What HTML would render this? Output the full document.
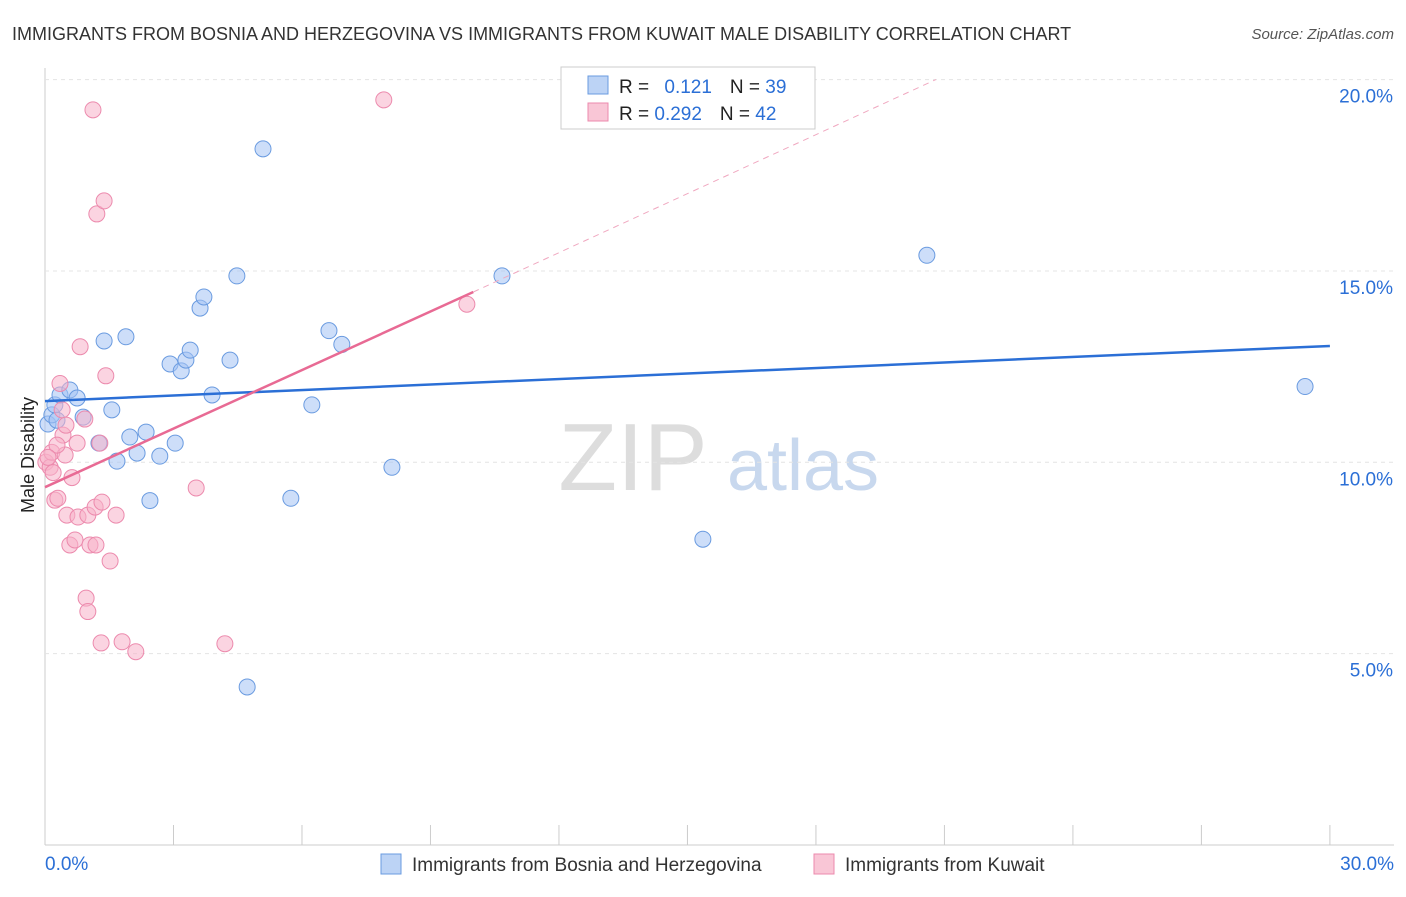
<!DOCTYPE html>
<html><head><meta charset="utf-8"><style>
body{margin:0;background:#fff;font-family:"Liberation Sans",sans-serif;}
svg text{font-family:"Liberation Sans",sans-serif;}
</style></head><body>
<svg id="c" width="1406" height="892" xmlns="http://www.w3.org/2000/svg">
<text x="12" y="40" font-size="18" fill="#333">IMMIGRANTS FROM BOSNIA AND HERZEGOVINA VS IMMIGRANTS FROM KUWAIT MALE DISABILITY CORRELATION CHART</text>
<text x="1394" y="39" font-size="15" fill="#555" font-style="italic" text-anchor="end">Source: ZipAtlas.com</text>
<g><text x="633" y="490" font-size="96" font-family="Liberation Serif" fill="#ddd" text-anchor="middle">ZIP</text><text x="803" y="490" font-size="72" fill="#c8d8ee" text-anchor="middle">atlas</text></g>
<text transform="translate(34,455) rotate(-90)" font-size="18" fill="#222" text-anchor="middle">Male Disability</text>
<g id="grid"></g><g id="pts"></g><g id="lines"></g>
<g>
<rect x="561" y="67" width="254" height="62" fill="#fff" stroke="#ccc"/>
<rect x="588" y="76" width="20" height="18" fill="#bcd3f5" stroke="#6a9be0"/>
<rect x="588" y="103" width="20" height="18" fill="#f9c6d6" stroke="#ec8aad"/>
<text x="619" y="93" font-size="19" fill="#222">R = <tspan fill="#2b6fd6" dx="10">0.121</tspan><tspan dx="18" fill="#222">N = </tspan><tspan fill="#2b6fd6">39</tspan></text>
<text x="619" y="120" font-size="19" fill="#222">R = <tspan fill="#2b6fd6">0.292</tspan><tspan dx="18" fill="#222">N = </tspan><tspan fill="#2b6fd6">42</tspan></text>
</g>
<g>
<rect x="381" y="854" width="20" height="20" fill="#bcd3f5" stroke="#6a9be0"/>
<text x="412" y="871" font-size="19" fill="#333">Immigrants from Bosnia and Herzegovina</text>
<rect x="814" y="854" width="20" height="20" fill="#f9c6d6" stroke="#ec8aad"/>
<text x="845" y="871" font-size="19" fill="#333">Immigrants from Kuwait</text>
</g>
</svg>
<script>
const yTicks=[5,10,15,20];
const xTickLabels=["0.0%","30.0%"];
const blueX=[0.07,0.16,0.23,0.35,0.58,0.75,0.89,1.26,1.38,1.56,1.68,1.89,1.98,2.15,2.36,2.45,2.68,2.92,3.04,3.18,3.29,3.39,3.62,3.71,3.90,4.32,4.48,4.72,5.09,5.74,6.23,6.63,6.93,8.10,10.67,15.36,20.59,29.42,0.28];
const blueY=[11.0,11.24,11.5,11.76,11.89,11.68,11.18,10.5,13.17,11.37,10.03,13.28,10.66,10.24,10.79,9.0,10.16,12.57,10.50,12.39,12.67,12.93,14.03,14.32,11.76,12.67,14.87,4.13,18.19,9.06,11.5,13.44,13.08,9.87,14.87,7.99,15.41,11.98,11.1];
const pinkX=[0.02,0.12,0.16,0.23,0.30,0.35,0.40,0.42,0.47,0.51,0.58,0.63,0.70,0.75,0.77,0.82,0.93,0.96,1.00,1.00,1.05,1.12,1.17,1.19,1.21,1.28,1.31,1.33,1.38,1.42,1.52,1.66,1.80,2.12,3.53,4.20,7.91,9.85,0.19,0.28,0.07,0.49];
const pinkY=[10.0,9.87,10.26,9.01,9.06,12.06,11.37,10.71,10.19,8.62,7.84,9.6,7.97,10.5,8.57,13.02,11.13,6.45,6.1,8.62,7.84,19.21,8.83,7.84,16.49,10.5,5.28,8.96,16.83,12.26,7.42,8.62,5.31,5.05,9.33,5.26,19.47,14.13,9.73,10.45,10.13,10.97];
const blueLine=[[0,11.6],[30,13.04]];
const pinkSolid=[[0,9.35],[10,14.45]];
const pinkDash=[[10,14.45],[20.8,20]];
const X0=45,XS=42.83,Y0=845,YS=38.27;
const sx=v=>X0+v*XS, sy=v=>Y0-v*YS;
const NS="http://www.w3.org/2000/svg";
function mk(p,t,a){const e=document.createElementNS(NS,t);for(const k in a)e.setAttribute(k,a[k]);document.getElementById(p).appendChild(e);return e;}
const ax=mk('grid','line',{x1:45,x2:45,y1:68,y2:845,stroke:'#ccc'});


const bx=mk('grid','line',{x1:45,x2:1394,y1:845,y2:845,stroke:'#ccc'});


for(let i=0;i<=10;i++){const t=mk('grid','line',{x1:sx(i*3),x2:sx(i*3),y1:825,y2:845,stroke:'#ccc'});

}
yTicks.forEach(v=>{const g=mk('grid','line',{x1:45,x2:1394,y1:sy(v),y2:sy(v),stroke:'#e4e4e4','stroke-dasharray':'4,4'});


const t=mk('grid','text',{x:1393,y:sy(v)+23,'font-size':19,fill:'#2b6fd6','text-anchor':'end'});t.textContent=v.toFixed(1)+'%';

});
[[0,'start',45],[1,'end',1394]].forEach(([i,a,x])=>{const t=mk('grid','text',{x:x,y:870,'font-size':19,fill:'#2b6fd6','text-anchor':a});t.textContent=xTickLabels[i];

});
blueX.forEach((v,i)=>{const c=mk('pts','circle',{cx:sx(v),cy:sy(blueY[i]),r:8,fill:'rgba(164,194,244,0.55)',stroke:'#6a9be0','stroke-width':1});

});
pinkX.forEach((v,i)=>{const c=mk('pts','circle',{cx:sx(v),cy:sy(pinkY[i]),r:8,fill:'rgba(248,176,200,0.55)',stroke:'#ec8aad','stroke-width':1});

});
const l1=mk('lines','line',{x1:sx(blueLine[0][0]),y1:sy(blueLine[0][1]),x2:sx(blueLine[1][0]),y2:sy(blueLine[1][1]),stroke:'#2b6fd6','stroke-width':2.5});


const l2=mk('lines','line',{x1:sx(pinkSolid[0][0]),y1:sy(pinkSolid[0][1]),x2:sx(pinkSolid[1][0]),y2:sy(pinkSolid[1][1]),stroke:'#e86a94','stroke-width':2.5});


const l3=mk('lines','line',{x1:sx(pinkDash[0][0]),y1:sy(pinkDash[0][1]),x2:sx(pinkDash[1][0]),y2:sy(pinkDash[1][1]),stroke:'#f0a8c0','stroke-width':1,'stroke-dasharray':'6,5'});


</script>
</body></html>
